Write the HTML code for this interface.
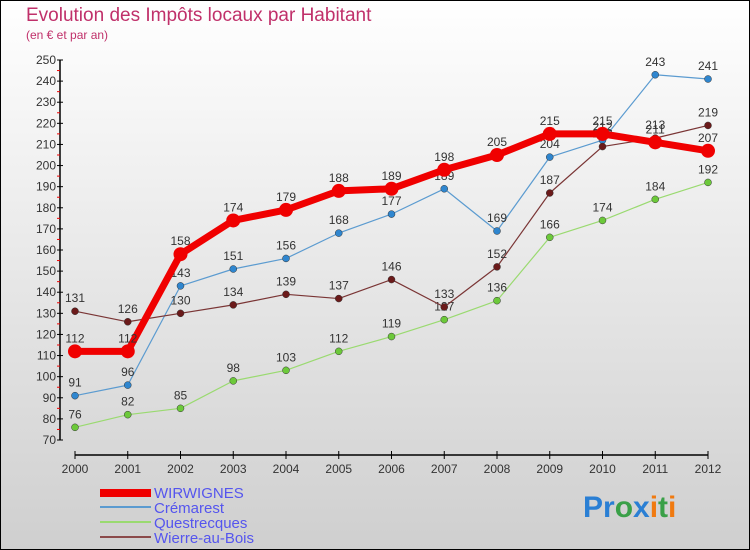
<!DOCTYPE html>
<html><head><meta charset="utf-8"><style>
body{margin:0;padding:0}
svg{display:block;font-family:"Liberation Sans",sans-serif}
</style></head><body>
<svg id="chart" width="750" height="550">
<defs><linearGradient id="bg" x1="0" y1="0" x2="0" y2="1"><stop offset="0" stop-color="#ffffff"/><stop offset="1" stop-color="#cfcfcf"/></linearGradient></defs>
<rect x="0.5" y="0.5" width="749" height="549" fill="url(#bg)" stroke="#000"/>
<text x="26" y="21" font-size="19" fill="#c0306a">Evolution des Impôts locaux par Habitant</text>
<text x="26" y="39" font-size="12" fill="#c0306a">(en € et par an)</text>
<g id="axes"></g><g id="series"></g><g id="legend"></g>
<text x="583" y="517" font-size="30" font-weight="bold"><tspan fill="#2a7fd4">Pr</tspan><tspan fill="#3aa048">o</tspan><tspan fill="#2a7fd4">x</tspan><tspan fill="#f07a10">i</tspan><tspan fill="#3aa048">t</tspan><tspan fill="#f07a10">i</tspan></text>
</svg>
<script>
const years=[2000,2001,2002,2003,2004,2005,2006,2007,2008,2009,2010,2011,2012];
const yTicks=[70,80,90,100,110,120,130,140,150,160,170,180,190,200,210,220,230,240,250];
const wirwignes=[112,112,158,174,179,188,189,198,205,215,215,211,207];
const cremarest=[91,96,143,151,156,168,177,189,169,204,212,243,241];
const questrecques=[76,82,85,98,103,112,119,127,136,166,174,184,192];
const wierre=[131,126,130,134,139,137,146,133,152,187,209,213,219];
const names=["WIRWIGNES","Crémarest","Questrecques","Wierre-au-Bois"];
const NS="http://www.w3.org/2000/svg";
const X=i=>75+i*52.75;
const Y=v=>440-(v-70)*380/180;
function mk(t,a,p){const e=document.createElementNS(NS,t);for(const k in a)e.setAttribute(k,a[k]);p.appendChild(e);return e;}
const ax=document.getElementById('axes');
mk('line',{x1:60,y1:60,x2:60,y2:440,stroke:'#000','stroke-width':1.5},ax);
mk('line',{x1:75,y1:455,x2:708,y2:455,stroke:'#000','stroke-width':1.5},ax);
yTicks.forEach((v,i)=>{
 mk('line',{x1:57,y1:Y(v),x2:63,y2:Y(v),stroke:'#000'},ax);
 if(i<yTicks.length-1) mk('line',{x1:57,y1:Y(v+5),x2:60,y2:Y(v+5),stroke:'#e00'},ax);
 const t=mk('text',{x:56,y:Y(v)+4,'font-size':12,'text-anchor':'end',fill:'#333'},ax);t.textContent=v;
 
 
});
years.forEach((y,i)=>{
 mk('line',{x1:X(i),y1:451,x2:X(i),y2:459,stroke:'#000'},ax);
 const t=mk('text',{x:X(i),y:473,'font-size':12,'text-anchor':'middle',fill:'#333'},ax);t.textContent=y;
 
 
});
const sg=document.getElementById('series');
const specs=[
 [cremarest,'#5b9bd0','#2f86cf',1.2,3.5,'cremarest'],
 [questrecques,'#9ada70','#6cc93a',1.2,3.5,'questrecques'],
 [wierre,'#7a3535','#6b1a1a',1.2,3.5,'wierre-au-bois'],
 [wirwignes,'#f00000','#f00000',7,7,'wirwignes']];
specs.forEach((s,k)=>{
 const g=mk('g',{},sg);
 
 
 const pl=mk('polyline',{points:s[0].map((v,i)=>X(i)+','+Y(v)).join(' '),fill:'none',stroke:s[1],'stroke-width':s[3],'stroke-linejoin':'round'},g);
 
 
 s[0].forEach((v,i)=>{
  const c=mk('circle',{cx:X(i),cy:Y(v),r:s[4],fill:s[2],stroke:s[3]>2?'none':'#333','stroke-width':0.5},g);
  
  
  const t=mk('text',{x:X(i),y:Y(v)-9,'font-size':12,'text-anchor':'middle',fill:'#333'},g);t.textContent=v;
  
  
 });
});
const lg=document.getElementById('legend');
const lc=['#f00000','#5b9bd0','#9ada70','#8b4a4a'];
names.forEach((n,i)=>{
 const y=492+i*15;
 const l=mk('line',{x1:100,y1:y+(i==0?1:0),x2:151,y2:y+(i==0?1:0),stroke:lc[i],'stroke-width':i==0?8:2},lg);
 
 
 const t=mk('text',{x:154,y:y+6,'font-size':15,fill:'#5555ee'},lg);t.textContent=n;
 
 
});
</script>
</body></html>
